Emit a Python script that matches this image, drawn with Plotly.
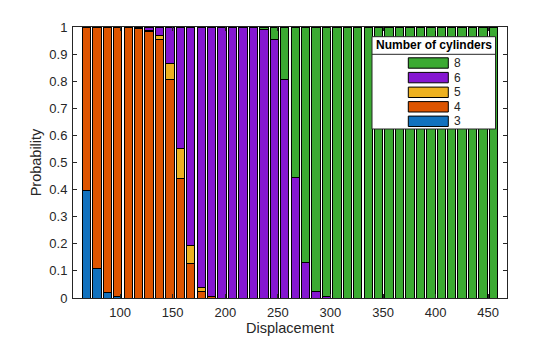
import plotly.graph_objects as go

# ---- data ----
displacement = [68.0, 77.9, 87.8, 97.8, 107.7, 117.6, 127.5, 137.5, 147.4, 157.3,
                167.2, 177.2, 187.1, 197.0, 206.9, 216.8, 226.8, 236.7, 246.6, 256.5,
                266.5, 276.4, 286.3, 296.2, 306.2, 316.1, 326.0, 335.9, 345.8, 355.8,
                365.7, 375.6, 385.5, 395.5, 405.4, 415.3, 425.2, 435.2, 445.1, 455.0]

p_cyl3 = [0.395, 0.110, 0.022, 0.004, 0, 0, 0, 0, 0, 0,
          0, 0, 0, 0, 0, 0, 0, 0, 0, 0,
          0, 0, 0, 0, 0, 0, 0, 0, 0, 0,
          0, 0, 0, 0, 0, 0, 0, 0, 0, 0]
p_cyl4 = [0.605, 0.890, 0.978, 0.996, 1.000, 0.996, 0.985, 0.954, 0.806, 0.442,
          0.129, 0.024, 0.004, 0, 0, 0, 0, 0, 0, 0,
          0, 0, 0, 0, 0, 0, 0, 0, 0, 0,
          0, 0, 0, 0, 0, 0, 0, 0, 0, 0]
p_cyl5 = [0, 0, 0, 0, 0, 0, 0.003, 0.013, 0.059, 0.110,
          0.064, 0.016, 0.001, 0, 0, 0, 0, 0, 0, 0,
          0, 0, 0, 0, 0, 0, 0, 0, 0, 0,
          0, 0, 0, 0, 0, 0, 0, 0, 0, 0]
p_cyl6 = [0, 0, 0, 0, 0, 0.004, 0.012, 0.033, 0.135, 0.448,
          0.807, 0.960, 0.995, 1.000, 1.000, 1.000, 0.997, 0.989, 0.954, 0.806,
          0.443, 0.130, 0.024, 0.005, 0, 0, 0, 0, 0, 0,
          0, 0, 0, 0, 0, 0, 0, 0, 0, 0]
p_cyl8 = [0, 0, 0, 0, 0, 0, 0, 0, 0, 0,
          0, 0, 0, 0, 0, 0, 0.003, 0.011, 0.046, 0.194,
          0.557, 0.870, 0.976, 0.995, 1, 1, 1, 1, 1, 1,
          1, 1, 1, 1, 1, 1, 1, 1, 1, 1]

cyl_labels = ["3", "4", "5", "6", "8"]
series = [p_cyl3, p_cyl4, p_cyl5, p_cyl6, p_cyl8]
colors = ["#1171BE", "#DD5400", "#EDB120", "#8516D1", "#3BAA32"]

x_ticks = [100, 150, 200, 250, 300, 350, 400, 450]
y_ticks = [0, 0.1, 0.2, 0.3, 0.4, 0.5, 0.6, 0.7, 0.8, 0.9, 1]
y_ticktext = ["0", "0.1", "0.2", "0.3", "0.4", "0.5", "0.6", "0.7", "0.8", "0.9", "1"]

legend_title = "Number of cylinders"

# ---- figure ----
W, H = 560, 337
L, R, T, B = 73, 53, 27, 39
PW, PH = W - L - R, H - T - B
FONT = "Liberation Sans, Arial, Helvetica, sans-serif"
AX = "#262626"

fig = go.Figure()
for lab, vals, col in zip(cyl_labels, series, colors):
    fig.add_trace(go.Bar(x=displacement, y=vals, name=lab,
                         marker=dict(color=col, line=dict(color="#000000", width=1)),
                         showlegend=False))

fig.update_layout(
    width=W, height=H, barmode="stack", bargap=0.2,
    margin=dict(l=L, r=R, t=T, b=B, autoexpand=False),
    paper_bgcolor="white", plot_bgcolor="white",
    font=dict(family=FONT, color=AX, size=13),
)
fig.update_xaxes(range=[55.2, 467.9], tickvals=x_ticks, ticks="inside", ticklen=4,
                 tickcolor=AX, showline=True, linecolor=AX, linewidth=1, mirror="ticks",
                 showgrid=False, zeroline=False, tickfont=dict(size=13, color=AX),
                 title=dict(text="Displacement", font=dict(size=14.5, color=AX), standoff=2),
                 ticklabelstandoff=2)
fig.update_yaxes(range=[0, 1], tickvals=y_ticks, ticktext=y_ticktext, ticks="inside",
                 ticklen=4, tickcolor=AX, showline=True, linecolor=AX, linewidth=1,
                 mirror="ticks", showgrid=False, zeroline=False,
                 tickfont=dict(size=13, color=AX),
                 title=dict(text="Probability", font=dict(size=14.5, color=AX), standoff=4),
                 ticklabelstandoff=2)

# ---- custom legend (MATLAB style) ----
def px(xp):
    return (xp - L) / PW

def py(yp):
    return (H - B - yp) / PH

box = dict(x0=372, x1=495.5, y0=36.7, y1=129)
fig.add_shape(type="rect", xref="paper", yref="paper",
              x0=px(box["x0"]), x1=px(box["x1"]), y0=py(box["y1"]), y1=py(box["y0"]),
              line=dict(color=AX, width=1), fillcolor="white", layer="above")
fig.add_shape(type="line", xref="paper", yref="paper",
              x0=px(box["x0"]), x1=px(box["x1"]), y0=py(54.3), y1=py(54.3),
              line=dict(color=AX, width=1), layer="above")
fig.add_annotation(xref="paper", yref="paper", x=px((box["x0"] + box["x1"]) / 2), y=py(45.5),
                   text="<b>" + legend_title + "</b>", showarrow=False,
                   xanchor="center", yanchor="middle", font=dict(size=12, color="#000000"))

row_y = [63.0, 77.6, 92.3, 106.8, 121.3]
for i, (lab, col) in enumerate(zip(cyl_labels[::-1], colors[::-1])):
    yc = row_y[i]
    fig.add_shape(type="rect", xref="paper", yref="paper",
                  x0=px(408.3), x1=px(448.3), y0=py(yc + 5.2), y1=py(yc - 5.2),
                  line=dict(color="#000000", width=1), fillcolor=col, layer="above")
    fig.add_annotation(xref="paper", yref="paper", x=px(451.5), y=py(yc),
                       text=lab, showarrow=False, xanchor="left", yanchor="middle",
                       font=dict(size=12, color=AX))

fig.write_html("out.html")
